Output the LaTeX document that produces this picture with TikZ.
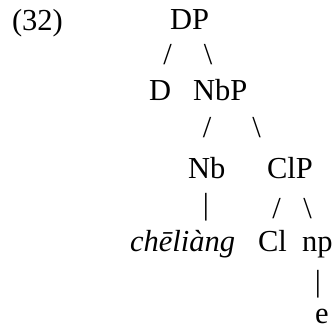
\documentclass[tikz,border=0pt]{standalone}
\usepackage{fontspec}
\setmainfont{Liberation Serif}
\begin{document}
\begin{tikzpicture}[x=1pt,y=-1pt,
  lbl/.style={inner sep=0pt,outer sep=0pt,anchor=base west,font=\fontsize{30.5}{34}\selectfont},
  br/.style={inner sep=0pt,outer sep=0pt,anchor=center,font=\fontsize{30.5}{34}\selectfont}]
\useasboundingbox (0,0) rectangle (336,331);
\node[lbl] (ex) at (12,31) {(32)};
\node[lbl] (DP) at (170,30) {DP};
\node[br] (s1) at (167.5,55) {/};
\node[br] (s2) at (208,55) {\textbackslash};
\node[lbl] (D) at (149,101) {D};
\node[lbl] (NbP) at (193,101) {NbP};
\node[br] (s3) at (207,127.5) {/};
\node[br] (s4) at (256.5,127.5) {\textbackslash};
\node[lbl] (Nb) at (188,178) {Nb};
\node[lbl] (ClP) at (267,178) {ClP};
\node[br] (s5) at (206,207.5) {|};
\node[br] (s6) at (276.5,209) {/};
\node[br] (s7) at (307.5,209) {\textbackslash};
\node[lbl] (chel) at (130,251) {\itshape chēliàng};
\node[lbl] (Cl) at (258,251) {Cl};
\node[lbl] (np) at (302,251) {np};
\node[br] (s8) at (318,284) {|};
\node[lbl] (e) at (315,323.5) {e};
\end{tikzpicture}
\end{document}
